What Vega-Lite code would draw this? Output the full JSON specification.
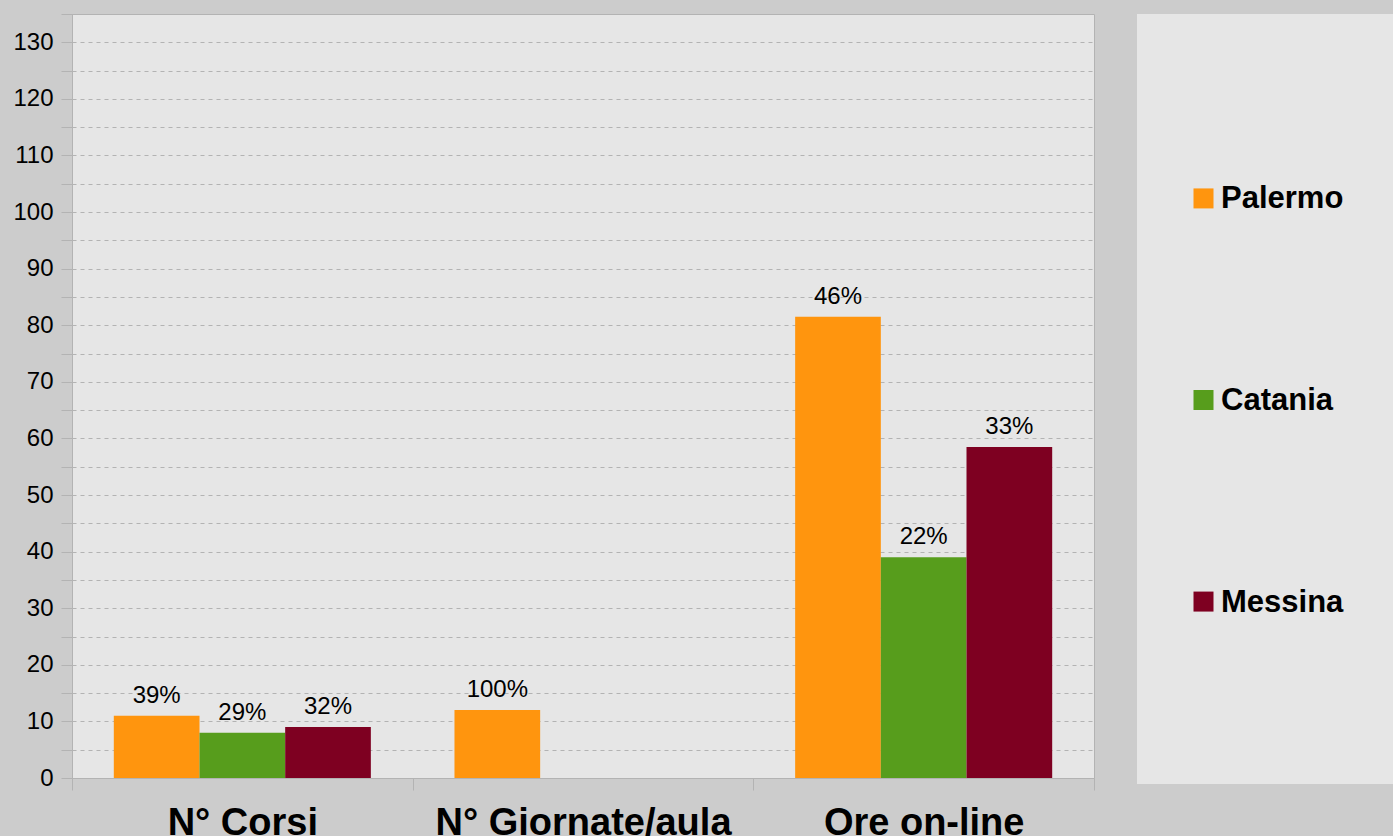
{
  "$schema": "https://vega.github.io/schema/vega-lite/v6.json",
  "background": "#cccccc",
  "padding": {"left": 12, "top": 1, "right": 0, "bottom": 0},
  "spacing": 42,
  "config": {"font": "Liberation Sans", "text": {"font": "Liberation Sans"}},
  "datasets": {
    "bars": [
      {"categoria": "N° Corsi", "serie": "Palermo", "valore": 11, "pct": "39%"},
      {"categoria": "N° Corsi", "serie": "Catania", "valore": 8, "pct": "29%"},
      {"categoria": "N° Corsi", "serie": "Messina", "valore": 9, "pct": "32%"},
      {"categoria": "N° Giornate/aula", "serie": "Palermo", "valore": 12, "pct": "100%"},
      {"categoria": "Ore on-line", "serie": "Palermo", "valore": 81.5, "pct": "46%"},
      {"categoria": "Ore on-line", "serie": "Catania", "valore": 39, "pct": "22%"},
      {"categoria": "Ore on-line", "serie": "Messina", "valore": 58.5, "pct": "33%"}
    ],
    "series": [
      {"serie": "Palermo"},
      {"serie": "Catania"},
      {"serie": "Messina"}
    ]
  },
  "hconcat": [
    {
      "width": 1022,
      "height": 764,
      "data": {"name": "bars"},
      "view": {"fill": "#e6e6e6", "stroke": "#b3b3b3"},
      "encoding": {
        "x": {
          "field": "categoria",
          "type": "nominal",
          "sort": ["N° Corsi", "N° Giornate/aula", "Ore on-line"],
          "scale": {"paddingInner": 0, "paddingOuter": 0},
          "axis": {
            "title": null,
            "labelAngle": 0,
            "labelFontSize": 38,
            "labelFontWeight": "bold",
            "labelColor": "#000000",
            "labelPadding": 14,
            "labelLimit": 500,
            "tickSize": 12,
            "tickColor": "#b3b3b3",
            "tickBand": "extent",
            "domainColor": "#b3b3b3",
            "grid": false
          }
        },
        "xOffset": {
          "field": "serie",
          "type": "nominal",
          "scale": {"domain": ["Palermo", "Catania", "Messina"], "paddingInner": 0, "paddingOuter": 0.488}
        },
        "y": {
          "field": "valore",
          "type": "quantitative",
          "scale": {"domain": [0, 135], "nice": false},
          "axis": {
            "title": null,
            "values": [0, 5, 10, 15, 20, 25, 30, 35, 40, 45, 50, 55, 60, 65, 70, 75, 80, 85, 90, 95, 100, 105, 110, 115, 120, 125, 130, 135],
            "labelExpr": "datum.value % 10 === 0 ? datum.label : ''",
            "labelOverlap": false,
            "labelFlush": false,
            "labelFontSize": 24,
            "labelColor": "#000000",
            "labelPadding": 8,
            "tickSize": 11,
            "tickColor": "#b3b3b3",
            "domainColor": "#b3b3b3",
            "grid": true,
            "gridColor": "#b3b3b3",
            "gridDash": [4, 4]
          }
        }
      },
      "layer": [
        {
          "mark": {"type": "bar"},
          "encoding": {
            "color": {
              "field": "serie",
              "type": "nominal",
              "scale": {"domain": ["Palermo", "Catania", "Messina"], "range": ["#ff950e", "#579d1c", "#7e0021"]},
              "legend": null
            }
          }
        },
        {
          "mark": {"type": "text", "baseline": "alphabetic", "dy": -13, "fontSize": 24, "color": "#000000"},
          "encoding": {"text": {"field": "pct"}}
        }
      ]
    },
    {
      "width": 257,
      "height": 770,
      "data": {"name": "series"},
      "view": {"fill": "#e6e6e6", "stroke": null},
      "encoding": {
        "y": {
          "field": "serie",
          "type": "nominal",
          "sort": ["Palermo", "Catania", "Messina"],
          "scale": {"type": "point", "padding": 0.91},
          "axis": null
        }
      },
      "layer": [
        {
          "mark": {"type": "point", "shape": "square", "filled": true, "size": 400, "opacity": 1, "xOffset": -62, "yOffset": 1},
          "encoding": {
            "color": {
              "field": "serie",
              "type": "nominal",
              "scale": {"domain": ["Palermo", "Catania", "Messina"], "range": ["#ff950e", "#579d1c", "#7e0021"]},
              "legend": null
            }
          }
        },
        {
          "mark": {"type": "text", "align": "left", "baseline": "middle", "dx": -44.5, "dy": 2, "fontSize": 31, "fontWeight": "bold", "color": "#000000"},
          "encoding": {"text": {"field": "serie"}}
        }
      ]
    }
  ]
}
